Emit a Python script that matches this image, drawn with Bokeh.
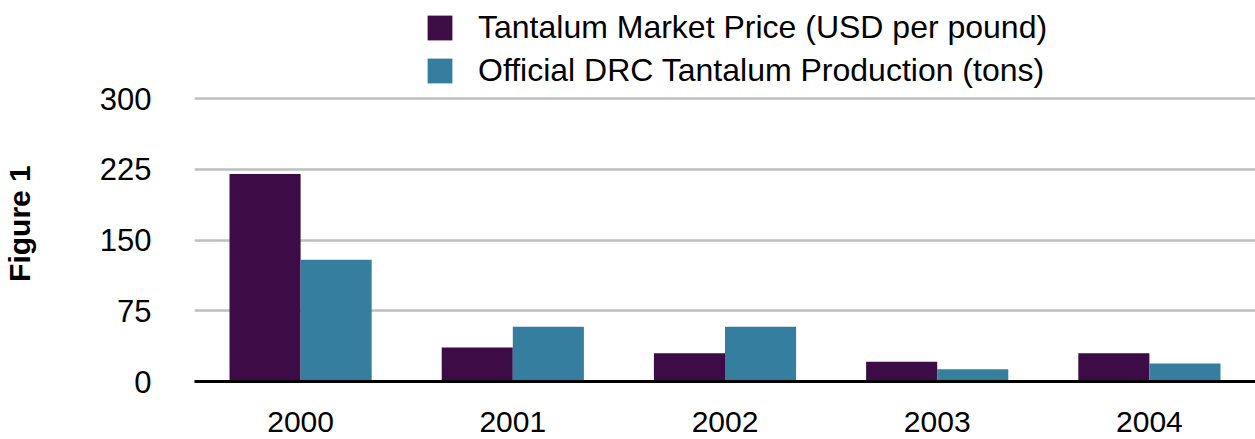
import math
from bokeh.plotting import figure
from bokeh.layouts import row
from bokeh.models import (ColumnDataSource, FactorRange, Range1d, FixedTicker,
                          Legend, LegendItem)
from bokeh.core.properties import value
from bokeh.transform import dodge
from bokeh.embed import file_html
from bokeh.resources import INLINE

years = ["2000", "2001", "2002", "2003", "2004"]
price = [220, 36, 30, 21, 30]
production = [129, 58, 58, 13, 19]
y_ticks = [0, 75, 150, 225, 300]
series_names = ["Tantalum Market Price (USD per pound)",
                "Official DRC Tantalum Production (tons)"]
colors = ["#3D0B46", "#367EA0"]
side_title = "Figure 1"

FONT = "Liberation Sans"

source = ColumnDataSource(data=dict(year=years, price=price, production=production))

# narrow figure holding the vertical "Figure 1" title
t = figure(width=40, height=439, x_range=Range1d(0, 40), y_range=Range1d(0, 439),
           output_backend="svg", toolbar_location=None,
           min_border=0)
t.axis.visible = False
t.grid.visible = False
t.outline_line_color = None
t.text(x=[19], y=[182], text=[side_title], angle=math.pi / 2,
       text_font=value(FONT), text_font_size="30px", text_font_style="bold",
       text_align="center", text_baseline="middle", text_color="black")

p = figure(x_range=FactorRange(factors=years, range_padding=0),
           y_range=Range1d(0, 404),
           width=1215, height=439,
           output_backend="svg", toolbar_location=None,
           min_border_left=154, min_border_right=0,
           min_border_top=0, min_border_bottom=58)

r1 = p.vbar(x=dodge("year", -0.1675, range=p.x_range), top="price", width=0.335,
            source=source, color=colors[0], line_color=None)
r2 = p.vbar(x=dodge("year", 0.1675, range=p.x_range), top="production", width=0.335,
            source=source, color=colors[1], line_color=None)

p.outline_line_color = None
p.background_fill_color = "white"
p.border_fill_color = "white"

p.xgrid.grid_line_color = None
p.ygrid.grid_line_color = "#BEBEBE"
p.ygrid.grid_line_width = 2.5
p.yaxis.ticker = FixedTicker(ticks=y_ticks)

p.yaxis.axis_line_color = None
p.yaxis.major_tick_line_color = None
p.yaxis.minor_tick_line_color = None
p.yaxis.major_label_text_font = FONT
p.yaxis.major_label_text_font_size = "31px"
p.yaxis.major_label_text_color = "black"
p.yaxis.major_label_standoff = 37

p.xaxis.axis_line_color = "black"
p.xaxis.axis_line_width = 3
p.xaxis.major_tick_line_color = None
p.xaxis.minor_tick_line_color = None
p.xaxis.major_label_text_font = FONT
p.xaxis.major_label_text_font_size = "30px"
p.xaxis.major_label_text_color = "black"
p.xaxis.major_label_standoff = 24

legend = Legend(items=[LegendItem(label=series_names[0], renderers=[r1]),
                       LegendItem(label=series_names[1], renderers=[r2])],
                location=(230, 292), orientation="vertical",
                glyph_width=31, glyph_height=31, label_standoff=23,
                spacing=6, padding=0, margin=0,
                label_text_font=FONT, label_text_font_size="32px",
                label_text_color="black",
                border_line_color=None, background_fill_alpha=0)
p.add_layout(legend, "center")

layout = row(t, p)
open("out.html", "w").write(file_html(layout, INLINE))
